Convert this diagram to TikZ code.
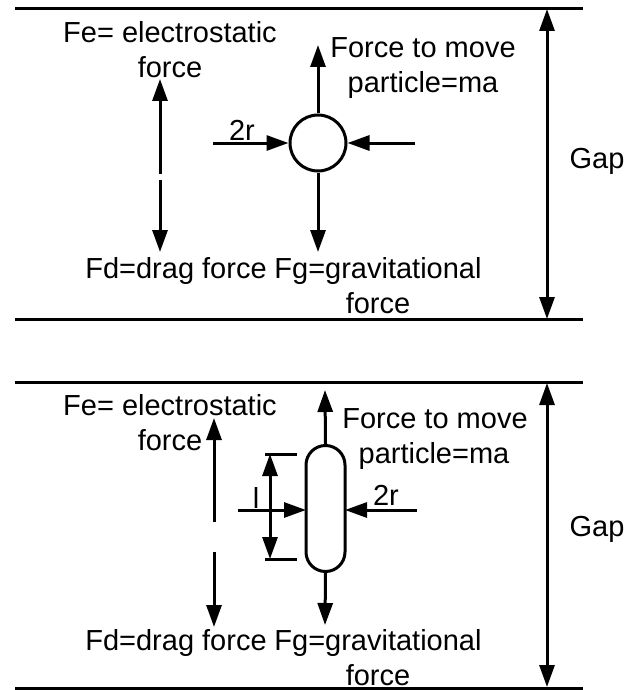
\documentclass[tikz,border=0pt]{standalone}
\usepackage{fontspec}
\setmainfont{Liberation Sans}
\usetikzlibrary{arrows.meta}
\begin{document}
\begin{tikzpicture}[x=1pt,y=-1pt,
  lbl/.style={anchor=base, inner sep=0pt, font=\fontsize{29}{35}\selectfont},
  wall/.style={line width=3pt},
  arr/.style={line width=3pt, -{Triangle[length=22pt,width=15pt]}},
  darr/.style={line width=3pt, {Triangle[length=22pt,width=15pt]}-{Triangle[length=22pt,width=15pt]}},
  part/.style={draw, line width=3pt, inner sep=0pt}
]
\useasboundingbox (0,0) rectangle (629,690);

% ================= top panel =================
\coordinate (t-wl1) at (15,9);    \coordinate (t-wr1) at (583,9);
\coordinate (t-wl2) at (15,319);  \coordinate (t-wr2) at (583,319);
\draw[wall] (t-wl1) -- (t-wr1);
\draw[wall] (t-wl2) -- (t-wr2);
\coordinate (t-gtop) at (547,9);
\coordinate (t-gbot) at (547,319);
\draw[darr] (t-gtop) -- (t-gbot);
\node[lbl] (t-gap) at (597,168) {Gap};

\node[part, circle, minimum size=56pt] (t-p) at (318,143) {};
\coordinate (t-up) at (318,45);
\coordinate (t-dn) at (318,252);
\coordinate (t-lf) at (213,143);
\coordinate (t-rt) at (415,143);
\draw[arr] (t-p.north) -- (t-up);
\draw[arr] (t-p.south) -- (t-dn);
\draw[arr] (t-lf) -- (t-p.west);
\draw[arr] (t-rt) -- (t-p.east);
\node[lbl] (t-2r) at (242,140) {2r};

\coordinate (t-fe0) at (160,174);
\coordinate (t-fe1) at (160,79);
\coordinate (t-fd0) at (160,180);
\coordinate (t-fd1) at (160,252);
\draw[arr] (t-fe0) -- (t-fe1);
\draw[arr] (t-fd0) -- (t-fd1);

\node[lbl] (t-fea) at (170,43) {Fe= electrostatic};
\node[lbl] (t-feb) at (170,78) {force};
\node[lbl] (t-fma) at (423,58) {Force to move};
\node[lbl] (t-fmb) at (423,93) {particle=ma};
\node[lbl] (t-fd) at (176,278) {Fd=drag force};
\node[lbl] (t-fga) at (378,278) {Fg=gravitational};
\node[lbl] (t-fgb) at (378,313) {force};

% ================= bottom panel =================
\coordinate (b-wl1) at (15,382);  \coordinate (b-wr1) at (583,382);
\coordinate (b-wl2) at (15,688.5);  \coordinate (b-wr2) at (583,688.5);
\draw[wall] (b-wl1) -- (b-wr1);
\draw[wall] (b-wl2) -- (b-wr2);
\coordinate (b-gtop) at (547,383);
\coordinate (b-gbot) at (547,687);
\draw[darr] (b-gtop) -- (b-gbot);
\node[lbl] (b-gap) at (597,536) {Gap};

\node[part, rectangle, rounded corners=19.5pt, minimum width=39pt, minimum height=126pt] (b-p) at (325.5,508.5) {};
\coordinate (b-up) at (325,390);
\coordinate (b-dn) at (325,625);
\coordinate (b-lf) at (238,510);
\coordinate (b-rt) at (417,510);
\coordinate (b-pl) at (306,510);
\coordinate (b-pr) at (345,510);
\draw[arr] (b-p.north) -- (b-up);
\draw[arr] (b-p.south) -- (b-dn);
\draw[arr] (b-lf) -- (b-pl);
\draw[arr] (b-rt) -- (b-pr);
\node[lbl] (b-2r) at (386,505) {2r};

% dimension of length
\coordinate (b-e1l) at (265,454); \coordinate (b-e1r) at (297,454);
\coordinate (b-e2l) at (265,559); \coordinate (b-e2r) at (297,559);
\draw[wall] (b-e1l) -- (b-e1r);
\draw[wall] (b-e2l) -- (b-e2r);
\coordinate (b-d1) at (270,454);
\coordinate (b-d2) at (270,559);
\draw[darr] (b-d1) -- (b-d2);
\node[lbl] (b-l) at (256,508.5) {l};

\coordinate (b-fe0) at (214,522);
\coordinate (b-fe1) at (214,418);
\coordinate (b-fd0) at (214,552);
\coordinate (b-fd1) at (214,627);
\draw[arr] (b-fe0) -- (b-fe1);
\draw[arr] (b-fd0) -- (b-fd1);

\node[lbl] (b-fea) at (170,415) {Fe= electrostatic};
\node[lbl] (b-feb) at (170,450) {force};
\node[lbl] (b-fma) at (435,428) {Force to move};
\node[lbl] (b-fmb) at (434,463) {particle=ma};
\node[lbl] (b-fd) at (176,650) {Fd=drag force};
\node[lbl] (b-fga) at (378,650) {Fg=gravitational};
\node[lbl] (b-fgb) at (378,685) {force};
\end{tikzpicture}
\end{document}
